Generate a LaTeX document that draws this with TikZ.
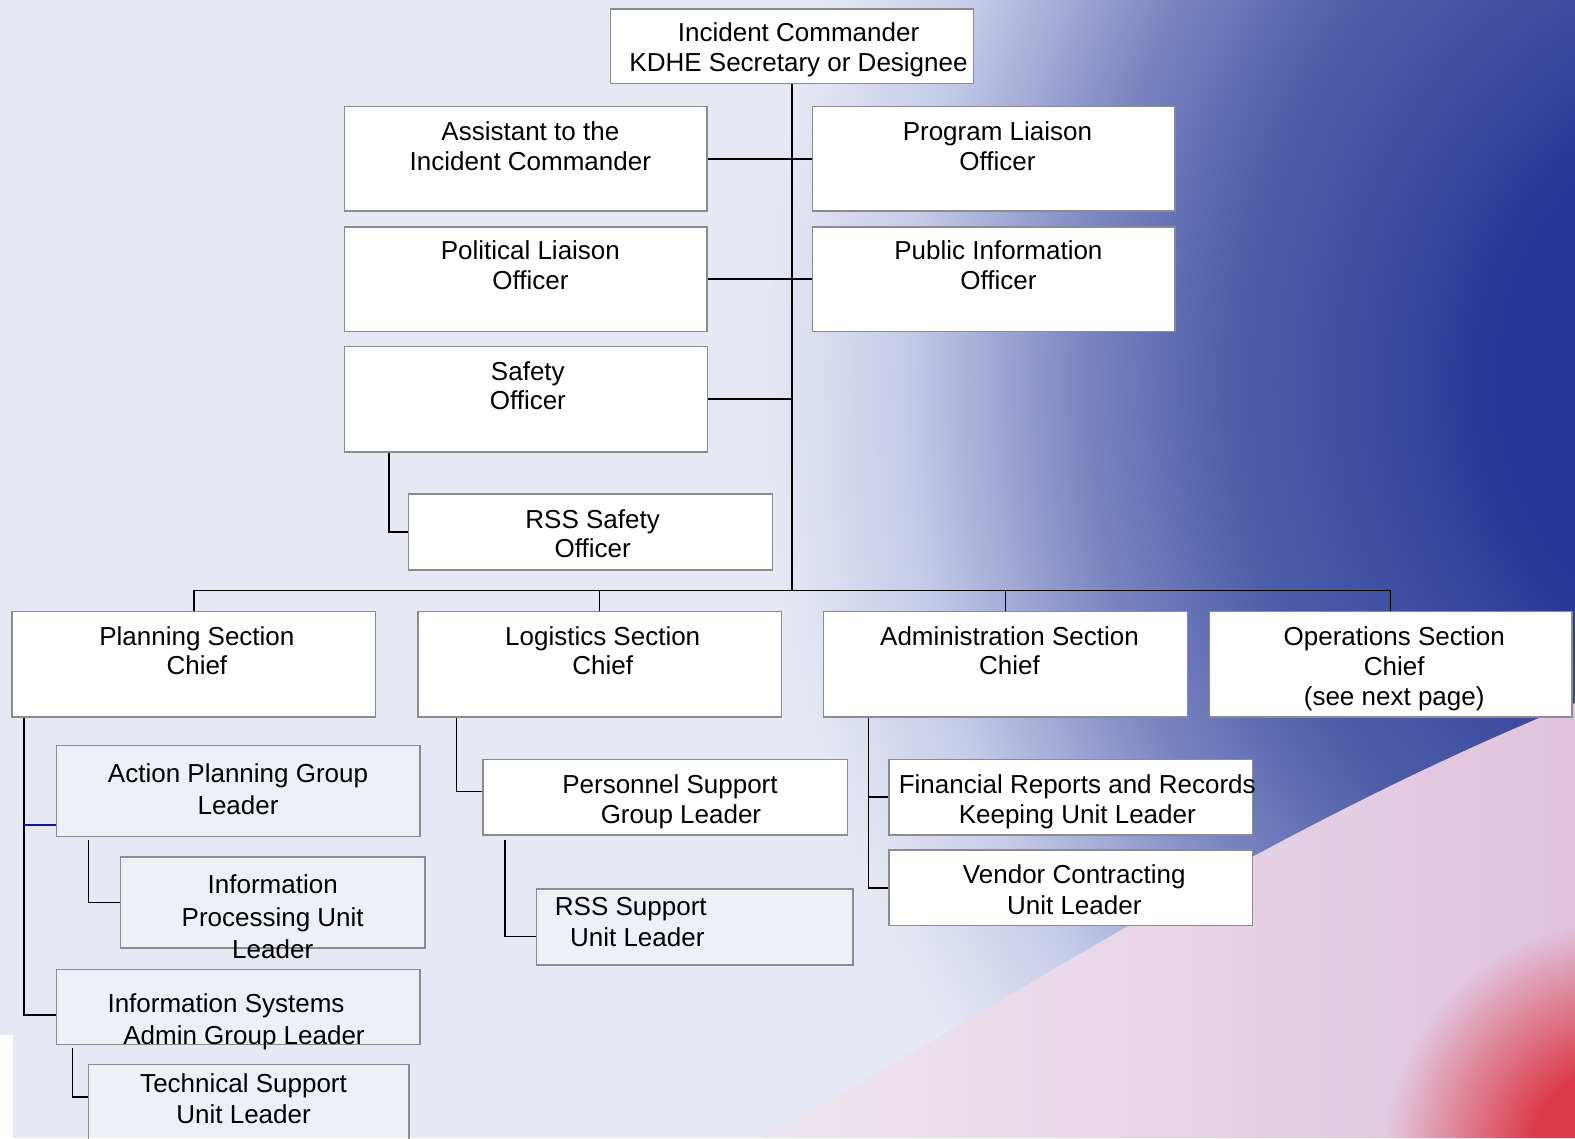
\documentclass[tikz,border=0pt]{standalone}
\usepackage{fontspec}
\setmainfont{Liberation Sans}
\usetikzlibrary{fit,fadings}
\definecolor{basebg}{RGB}{230,232,243}
\definecolor{db}{RGB}{38,52,148}
\definecolor{db2}{RGB}{58,73,158}
\definecolor{mb}{RGB}{80,95,170}
\definecolor{lb}{RGB}{122,132,192}
\definecolor{lb2}{RGB}{198,203,232}
\definecolor{pk}{RGB}{238,231,239}
\definecolor{pk2}{RGB}{224,194,220}
\definecolor{rd}{RGB}{220,60,74}
\definecolor{boxline}{RGB}{140,140,140}
\definecolor{bluelink}{RGB}{20,20,160}
\pgfdeclareradialshading{bluesh}{\pgfpoint{0bp}{0bp}}{color(0bp)=(db); color(5.5bp)=(db); color(8.5bp)=(db2); color(12.5bp)=(mb); color(16bp)=(lb); color(20.5bp)=(lb2); color(24bp)=(basebg); color(50bp)=(basebg)}
\pgfdeclareradialshading{redfadesh}{\pgfpoint{0bp}{0bp}}{color(0bp)=(white); color(9bp)=(white); color(24bp)=(black); color(50bp)=(black)}
\pgfdeclarefading{redfade}{\pgfuseshading{redfadesh}}
\tikzset{
  orgbox/.style={draw=boxline, line width=1.5bp, fill=white, inner sep=0pt, rectangle},
  ghostbox/.style={draw=boxline, line width=1.5bp, fill=white, fill opacity=0.35, inner sep=0pt, rectangle},
  conn/.style={draw=black, line width=1.6bp},
  blueconn/.style={draw=bluelink, line width=1.4bp},
  lbl/.style={align=center, inner sep=0pt, anchor=north, font=\fontsize{26bp}{#1}\selectfont, execute at begin node=\strut},
  lbl/.default=30bp
}
\begin{document}
\begin{tikzpicture}[x=1.0045bp, y=-1.0045bp]
% background
\path[use as bounding box] (0,0) rectangle (1568,1133);
\fill[basebg] (0,0) rectangle (1568,1133);
\begin{scope}
\clip (0,0) -- (1568,0) -- (1568,700) .. controls (1250,830) and (1000,1000) .. (760,1133) -- (0,1133) -- cycle;
\shade[shading=bluesh] (1720,380) ellipse [x radius=1000, y radius=1150];
\end{scope}
\begin{scope}
\clip (1568,700) .. controls (1250,830) and (1000,1000) .. (760,1133) -- (1568,1133) -- cycle;
\shade[left color=pk, right color=pk2] (760,680) rectangle (1568,1133);
\fill[rd, path fading=redfade] (1610,1150) circle [radius=240];
\end{scope}
\fill[white] (0,1030) rectangle (13,1133);

% boxes
\node[orgbox, fit={(608,9) (969,83)}] (ic) {};
\node[orgbox, fit={(343,106) (704,210)}] (asst) {};
\node[orgbox, fit={(809,106) (1170,210)}] (prog) {};
\node[orgbox, fit={(343,226) (704,330)}] (pol) {};
\node[orgbox, fit={(809,226) (1170,330)}] (pub) {};
\node[orgbox, fit={(343,345) (704.5,450)}] (safety) {};
\node[orgbox, fit={(406.5,492) (769,567.5)}] (rsssafety) {};
\node[orgbox, fit={(12,609) (374,714)}] (planning) {};
\node[orgbox, fit={(416,609) (778,714)}] (logistics) {};
\node[orgbox, fit={(820,609) (1182,714)}] (admin) {};
\node[orgbox, fit={(1204,609) (1565,714)}] (ops) {};
\node[ghostbox, fit={(56.4,742) (418,833)}] (action) {};
\node[ghostbox, fit={(120,853) (423,944)}] (infoproc) {};
\node[ghostbox, fit={(56.4,965) (418,1040)}] (infosys) {};
\node[ghostbox, fit={(88,1060) (407,1140)}] (tech) {};
\node[orgbox, fit={(481,756) (843.5,831.3)}] (personnel) {};
\node[ghostbox, fit={(534.3,885) (849,960.7)}] (rsssupport) {};
\node[orgbox, fit={(885,756) (1246.7,831.3)}] (financial) {};
\node[orgbox, fit={(885,846.2) (1246.7,921.5)}] (vendor) {};

% connectors
\coordinate (busy) at (0,588);
\draw[conn] (ic.south) -- (ic.south |- busy);
\draw[conn] (planning.north) |- (ops.north |- busy) -- (ops.north);
\draw[conn] (logistics.north) -- (logistics.north |- busy);
\draw[conn] (admin.north) -- (admin.north |- busy);
\draw[conn] (asst.east) -- (prog.west);
\draw[conn] (pol.east) -- (pub.west);
\draw[conn] (safety.east) -- (safety.east -| ic.south);
\coordinate (sfx) at (387,0);
\draw[conn] (safety.south -| sfx) |- (rsssafety.west);
\coordinate (plx) at (24,0);
\coordinate (plb) at (24,1010.5);
\coordinate (plm) at (24,821.3);
\draw[conn] (planning.south -| plx) -- (plb) -- (plb -| infosys.west);
\draw[blueconn] (plm) -- (plm -| action.west);
\coordinate (apt) at (88,836.3);
\draw[conn] (apt) |- (infoproc.west);
\coordinate (ist) at (72,1043.3);
\coordinate (isb) at (72,1092);
\draw[conn] (ist) -- (isb) -- (isb -| tech.west);
\coordinate (lgx) at (454.6,0);
\coordinate (lgb) at (454.6,788);
\draw[conn] (logistics.south -| lgx) -- (lgb) -- (lgb -| personnel.west);
\coordinate (pst) at (502.7,836);
\coordinate (psb) at (502.7,932.5);
\draw[conn] (pst) -- (psb) -- (psb -| rsssupport.west);
\coordinate (adx) at (864.5,0);
\draw[conn] (admin.south -| adx) |- (vendor.west);
\draw[conn] (financial.west -| adx) -- (financial.west);

% texts
\node[lbl=30bp] (tic) at (795,22.3) {Incident Commander\\KDHE Secretary or Designee};
\node[lbl] (tasst) at (528,120.5) {Assistant to the\\Incident Commander};
\node[lbl] (tprog) at (993,120.5) {Program Liaison\\Officer};
\node[lbl] (tpol) at (528,239.5) {Political Liaison\\Officer};
\node[lbl] (tpub) at (994,239.5) {Public Information\\Officer};
\node[lbl=29bp] (tsafety) at (525.5,360) {Safety\\Officer};
\node[lbl=29bp] (trsssafety) at (590,507) {RSS Safety\\Officer};
\node[lbl=29bp] (tplanning) at (196,624) {Planning Section\\Chief};
\node[lbl=29bp] (tlogistics) at (600,624) {Logistics Section\\Chief};
\node[lbl=29bp] (tadmin) at (1005,624) {Administration Section\\Chief};
\node[lbl=30bp] (tops) at (1388,623.5) {Operations Section\\Chief\\(see next page)};
\node[lbl=31.5bp] (taction) at (237,760.5) {Action Planning Group\\Leader};
\node[lbl=32.5bp] (tinfoproc) at (271.5,870.8) {Information\\Processing Unit\\Leader};
\node[lbl=32bp] (tinfosys) at (225,989.5) {Information Systems\\\hspace*{36bp}Admin Group Leader};
\node[lbl=31bp] (ttech) at (242.5,1069) {Technical Support\\Unit Leader};
\node[lbl=30bp] (tpersonnel) at (667,771.2) {Personnel Support\\\hspace*{22bp}Group Leader};
\node[lbl=31bp] (trsssupport) at (628,893) {RSS Support\\\hspace*{13bp}Unit Leader};
\node[lbl=30bp] (tfinancial) at (1072.5,771.5) {Financial Reports and Records\\Keeping Unit Leader};
\node[lbl=31bp] (tvendor) at (1069.5,860.2) {Vendor Contracting\\Unit Leader};
\end{tikzpicture}
\end{document}
